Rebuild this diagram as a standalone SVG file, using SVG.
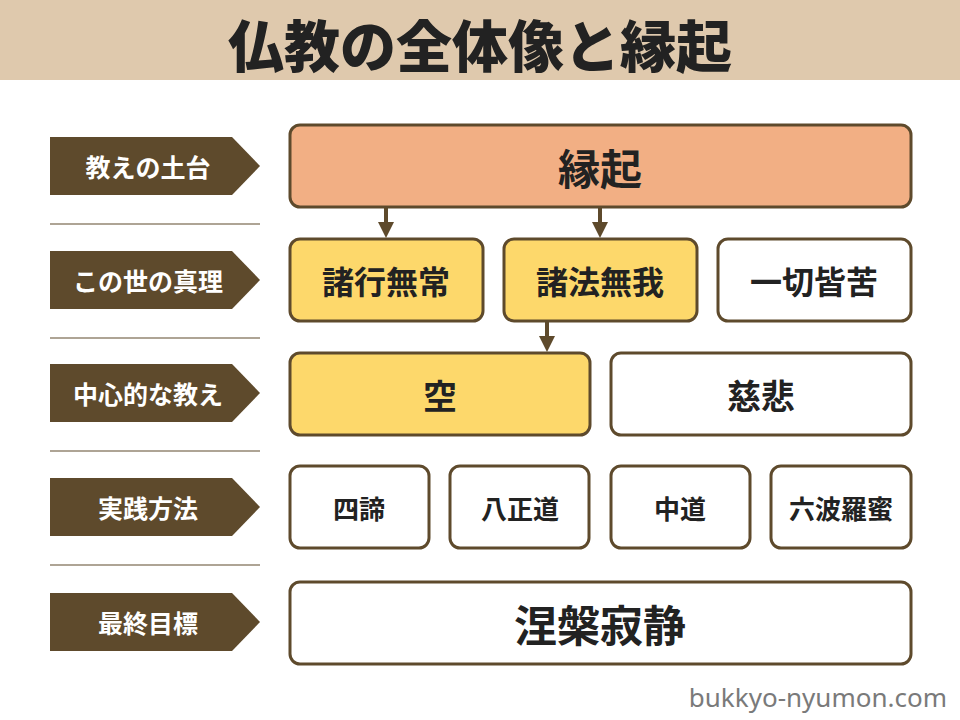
<svg xmlns="http://www.w3.org/2000/svg" width="960" height="720" viewBox="0 0 960 720">
<style>
.lab path{fill:#5e4a2c}
.lab text{fill:#fff;font:bold 25px "Noto Sans CJK JP",sans-serif;text-anchor:middle;dominant-baseline:central}
.box rect{stroke:#5e4a2c;stroke-width:3}
.box text{fill:#222;font-family:"Noto Sans CJK JP",sans-serif;font-weight:bold;text-anchor:middle;dominant-baseline:central}
.y{fill:#fdd86b}.w{fill:#fff}.o{fill:#f2af84}
</style>
<defs><marker id="ah" markerWidth="4" markerHeight="4" refX="2" refY="2" orient="auto" markerUnits="strokeWidth"><path d="M0,0L4,2L0,4z" fill="#5e4a2c"/></marker></defs>
<rect width="960" height="720" fill="#fff"/>
<rect width="960" height="80" fill="#dfc9ad"/>
<text x="480" y="42" font-family="Noto Sans CJK JP,sans-serif" font-weight="900" font-size="56" fill="#222" text-anchor="middle" dominant-baseline="central">仏教の全体像と縁起</text>
<g class="lab">
<g id="l1"><path d="M50,137H232L260,166L232,195H50z"/><text x="148" y="166">教えの土台</text></g>
<g id="l2"><path d="M50,251H232L260,280L232,309H50z"/><text x="148" y="280">この世の真理</text></g>
<g id="l3"><path d="M50,364H232L260,393L232,422H50z"/><text x="148" y="393">中心的な教え</text></g>
<g id="l4"><path d="M50,478H232L260,507L232,536H50z"/><text x="148" y="507">実践方法</text></g>
<g id="l5"><path d="M50,593H232L260,622L232,651H50z"/><text x="148" y="622">最終目標</text></g>
</g>
<g stroke="#5e4a2c" stroke-width="1.2">
<line x1="50" y1="224" x2="260" y2="224"/><line x1="50" y1="338" x2="260" y2="338"/><line x1="50" y1="451" x2="260" y2="451"/><line x1="50" y1="565" x2="260" y2="565"/>
</g>
<g class="box">
<g id="engi"><rect class="o" x="290" y="125" width="621" height="82" rx="10"/><text x="600" y="166" font-size="42">縁起</text></g>
<g id="b1"><rect class="y" x="290" y="239" width="193" height="82" rx="10"/><text x="386" y="280" font-size="32">諸行無常</text></g>
<g id="b2"><rect class="y" x="504" y="239" width="193" height="82" rx="10"/><text x="600" y="280" font-size="32">諸法無我</text></g>
<g id="b3"><rect class="w" x="718" y="239" width="193" height="82" rx="10"/><text x="814" y="280" font-size="32">一切皆苦</text></g>
<g id="ku"><rect class="y" x="290" y="353" width="300" height="82" rx="10"/><text x="440" y="394" font-size="34">空</text></g>
<g id="jihi"><rect class="w" x="611" y="353" width="300" height="82" rx="10"/><text x="761" y="394" font-size="34">慈悲</text></g>
<g id="p1"><rect class="w" x="290" y="466" width="139" height="82" rx="10"/><text x="359" y="507" font-size="26">四諦</text></g>
<g id="p2"><rect class="w" x="450" y="466" width="139" height="82" rx="10"/><text x="520" y="507" font-size="26">八正道</text></g>
<g id="p3"><rect class="w" x="611" y="466" width="139" height="82" rx="10"/><text x="680" y="507" font-size="26">中道</text></g>
<g id="p4"><rect class="w" x="771" y="466" width="140" height="82" rx="10"/><text x="841" y="507" font-size="26">六波羅蜜</text></g>
<g id="nehan"><rect class="w" x="290" y="582" width="621" height="82" rx="10"/><text x="600" y="623" font-size="43">涅槃寂静</text></g>
</g>
<g id="connectors" stroke="#5e4a2c" stroke-width="4" marker-end="url(#ah)">
<line x1="386" y1="208" x2="386" y2="230"/>
<line x1="600" y1="208" x2="600" y2="230"/>
<line x1="547" y1="322" x2="547" y2="344"/>
</g>
<text x="947" y="697" font-family="Noto Sans,sans-serif" font-size="26" fill="#7a7a7a" text-anchor="end" dominant-baseline="central">bukkyo-nyumon.com</text>
</svg>
